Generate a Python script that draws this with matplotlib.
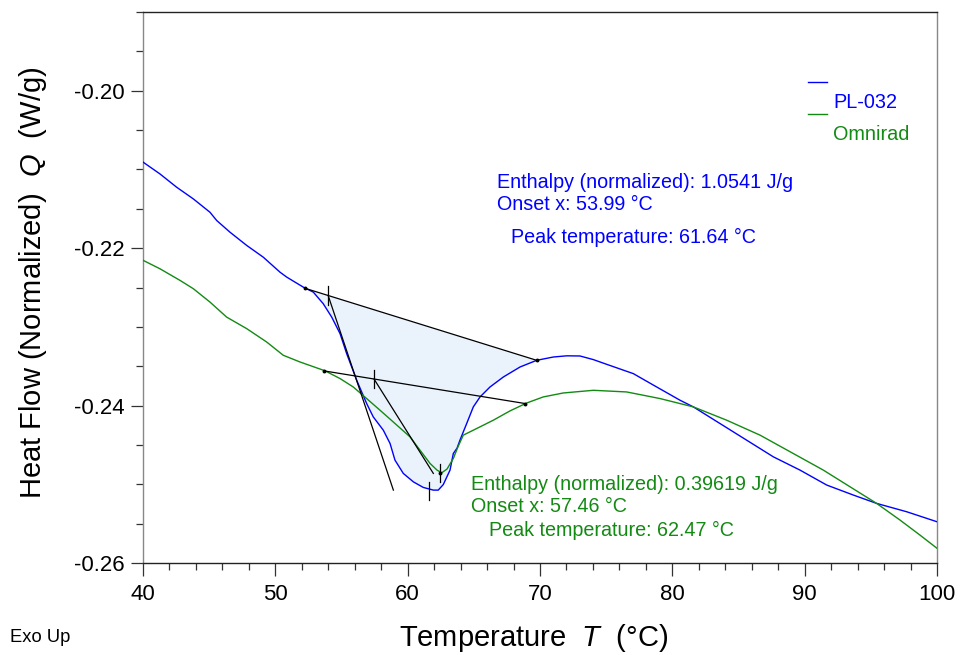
import numpy as np
import matplotlib
matplotlib.use('Agg')
import matplotlib.pyplot as plt
from matplotlib.ticker import MultipleLocator, FormatStrFormatter

plt.rcParams['font.family'] = ['Liberation Sans', 'DejaVu Sans']
plt.rcParams['mathtext.fontset'] = 'custom'
plt.rcParams['mathtext.rm'] = 'Liberation Sans'
plt.rcParams['mathtext.it'] = 'Liberation Sans:italic'
plt.rcParams['axes.unicode_minus'] = False

# ---- data ----
blue_T = [40.02, 41.28, 42.55, 43.80, 45.06, 45.57, 46.57, 47.84, 49.09, 50.35,
          50.86, 52.11, 52.87, 53.62, 54.26, 54.89, 55.39, 56.15, 56.90, 57.40,
          58.16, 58.67, 59.04, 59.67, 60.43, 61.18, 61.94, 62.31, 62.69, 63.20,
          63.45, 63.73, 63.95, 64.46, 64.96, 65.47, 66.22, 67.23, 68.49, 69.75,
          71.01, 72.02, 73.02, 74.03, 75.04, 77.05, 78.82, 80.58, 81.59, 83.60,
          85.62, 87.63, 89.65, 91.67, 93.68, 95.44, 97.71, 100.0]
blue_Q = [-0.20909, -0.21057, -0.21227, -0.21374, -0.21544, -0.21649, -0.21797,
          -0.21966, -0.22115, -0.22305, -0.22368, -0.22495, -0.22559, -0.22706,
          -0.22876, -0.23086, -0.23340, -0.23679, -0.23974, -0.24144, -0.24313,
          -0.24482, -0.24693, -0.24862, -0.24969, -0.25040, -0.25074, -0.25074,
          -0.25004, -0.24820, -0.24609, -0.24541, -0.24440, -0.24228, -0.24017,
          -0.23890, -0.23764, -0.23637, -0.23510, -0.23425, -0.23383, -0.23368,
          -0.23370, -0.23416, -0.23476, -0.23594, -0.23764, -0.23932, -0.24017,
          -0.24228, -0.24440, -0.24651, -0.24820, -0.25010, -0.25137, -0.25243,
          -0.25349, -0.25476]

green_T = [40.02, 41.28, 42.80, 43.80, 45.06, 46.32, 47.84, 49.35, 50.60, 51.86,
           53.75, 54.89, 55.89, 56.90, 57.91, 58.91, 60.18, 60.93, 61.69, 62.22,
           62.57, 62.97, 63.45, 63.80, 64.20, 65.22, 66.47, 67.73, 69.00, 70.25,
           71.76, 74.03, 76.55, 79.07, 81.59, 84.11, 86.63, 89.14, 91.41, 93.43,
           95.44, 97.20, 98.71, 100.0]
green_Q = [-0.22156, -0.22262, -0.22410, -0.22515, -0.22685, -0.22876, -0.23023,
           -0.23193, -0.23361, -0.23446, -0.23558, -0.23657, -0.23764, -0.23911,
           -0.24059, -0.24208, -0.24398, -0.24566, -0.24735, -0.24820, -0.24854,
           -0.24807, -0.24672, -0.24525, -0.24376, -0.24291, -0.24186, -0.24068,
           -0.23967, -0.23890, -0.23840, -0.23806, -0.23827, -0.23911, -0.24017,
           -0.24186, -0.24376, -0.24609, -0.24820, -0.25032, -0.25243, -0.25454,
           -0.25645, -0.25813]

series_names = ['PL-032', 'Omnirad']

blue_base_T = [52.24, 69.75]
blue_base_Q = [-0.22510, -0.23425]
blue_onset_T = 53.99
blue_onset_Q = -0.22601
blue_tan_end = (58.92, -0.25074)
blue_peak_T = 61.64
blue_peak_Q = -0.25080
blue_enthalpy = 1.0541

green_base_T = [53.70, 68.87]
green_base_Q = [-0.23560, -0.23974]
green_onset_T = 57.46
green_onset_Q = -0.23663
green_tan_end = (61.94, -0.24862)
green_peak_T = 62.47
green_peak_Q = -0.24856
green_enthalpy = 0.39619

BLUE = '#0000ff'
GREEN = '#138a13'
FILL = '#eaf3fc'

W, H = 961, 655
fig = plt.figure(figsize=(9.61, 6.55), dpi=100)
ax = fig.add_axes([143/W, 1-563/H, 794/W, 551/H])

# fill region for blue peak
bt = np.array(blue_T); bq = np.array(blue_Q)
mask = (bt > blue_base_T[0]) & (bt < blue_base_T[1])
ft = np.concatenate([[blue_base_T[0]], bt[mask], [blue_base_T[1]]])
fc = np.concatenate([[blue_base_Q[0]], bq[mask], [blue_base_Q[1]]])
fb = np.interp(ft, blue_base_T, blue_base_Q)
ax.fill_between(ft, fb, fc, color=FILL, lw=0, zorder=1)

ax.plot(blue_T, blue_Q, color=BLUE, lw=1.0, zorder=3)
ax.plot(green_T, green_Q, color=GREEN, lw=1.0, zorder=3)

k = 'black'
# baselines
ax.plot(blue_base_T, blue_base_Q, color=k, lw=0.9, zorder=4)
ax.plot(green_base_T, green_base_Q, color=k, lw=0.9, zorder=4)
ax.plot(blue_base_T, blue_base_Q, 'o', color=k, ms=1.8, zorder=5)
ax.plot(green_base_T, green_base_Q, 'o', color=k, ms=1.8, zorder=5)
# tangents
ax.plot([blue_onset_T, blue_tan_end[0]], [blue_onset_Q, blue_tan_end[1]], color=k, lw=0.9, zorder=4)
ax.plot([green_onset_T, green_tan_end[0]], [green_onset_Q, green_tan_end[1]], color=k, lw=0.9, zorder=4)
# tick marks
h = 0.00115
for (tx, ty) in [(blue_onset_T, blue_onset_Q), (green_onset_T, green_onset_Q),
                 (blue_peak_T, blue_peak_Q), (green_peak_T, green_peak_Q)]:
    ax.plot([tx, tx], [ty - h, ty + h], color=k, lw=0.9, zorder=5)
ax.plot([green_peak_T], [green_peak_Q], 'o', color=k, ms=1.8, zorder=5)

# annotations
fs = 14.2
ax.text(66.75, -0.21167, f'Enthalpy (normalized): {blue_enthalpy:.4f} J/g', color=BLUE, fontsize=fs, va='center', ha='left')
ax.text(66.75, -0.21446, f'Onset x: {blue_onset_T:.2f} °C', color=BLUE, fontsize=fs, va='center', ha='left')
ax.text(67.81, -0.21865, f'Peak temperature: {blue_peak_T:.2f} °C', color=BLUE, fontsize=fs, va='center', ha='left')
ax.text(64.79, -0.24998, f'Enthalpy (normalized): {green_enthalpy:.5f} J/g', color=GREEN, fontsize=fs, va='center', ha='left')
ax.text(64.79, -0.25277, f'Onset x: {green_onset_T:.2f} °C', color=GREEN, fontsize=fs, va='center', ha='left')
ax.text(66.15, -0.25581, f'Peak temperature: {green_peak_T:.2f} °C', color=GREEN, fontsize=fs, va='center', ha='left')

ax.set_xlim(40, 100)
ax.set_ylim(-0.26, -0.19)
ax.xaxis.set_major_locator(MultipleLocator(10))
ax.xaxis.set_minor_locator(MultipleLocator(2))
ax.yaxis.set_major_locator(MultipleLocator(0.02))
ax.yaxis.set_minor_locator(MultipleLocator(0.005))
ax.yaxis.set_major_formatter(FormatStrFormatter('%.2f'))
ax.tick_params(which='major', length=9, width=0.9, labelsize=16, direction='out', color='#333333')
ax.tick_params(which='minor', length=5, width=0.9, direction='out', color='#333333')
ax.tick_params(axis='x', pad=6)
ax.tick_params(axis='y', pad=4)
for s in ['left', 'right']:
    ax.spines[s].set_color('#888888')
for s in ['top', 'bottom']:
    ax.spines[s].set_color('#222222')
for s in ax.spines.values():
    s.set_linewidth(1.0)

# legend (manual)
fig.add_artist(plt.Line2D([808/W, 827/W], [1-82/H, 1-82/H], color=BLUE, lw=1.0))
fig.add_artist(plt.Line2D([808/W, 827/W], [1-114/H, 1-114/H], color=GREEN, lw=1.0))
fig.text(833/W, 1-102/H, series_names[0], color=BLUE, fontsize=14.3, ha='left', va='center')
fig.text(833/W, 1-135/H, series_names[1], color=GREEN, fontsize=14.3, ha='left', va='center')

# axis labels
fig.text(534/W, 1-638/H, r'Temperature  $T$  (°C)', fontsize=21, ha='center', va='center')
fig.text(33/W, 1-283/H, r'Heat Flow (Normalized)  $Q$  (W/g)', fontsize=21, ha='center', va='center', rotation=90)
fig.text(10/W, 1-637/H, 'Exo Up', fontsize=13.2, ha='left', va='center')

fig.savefig('out.png', dpi=100)
